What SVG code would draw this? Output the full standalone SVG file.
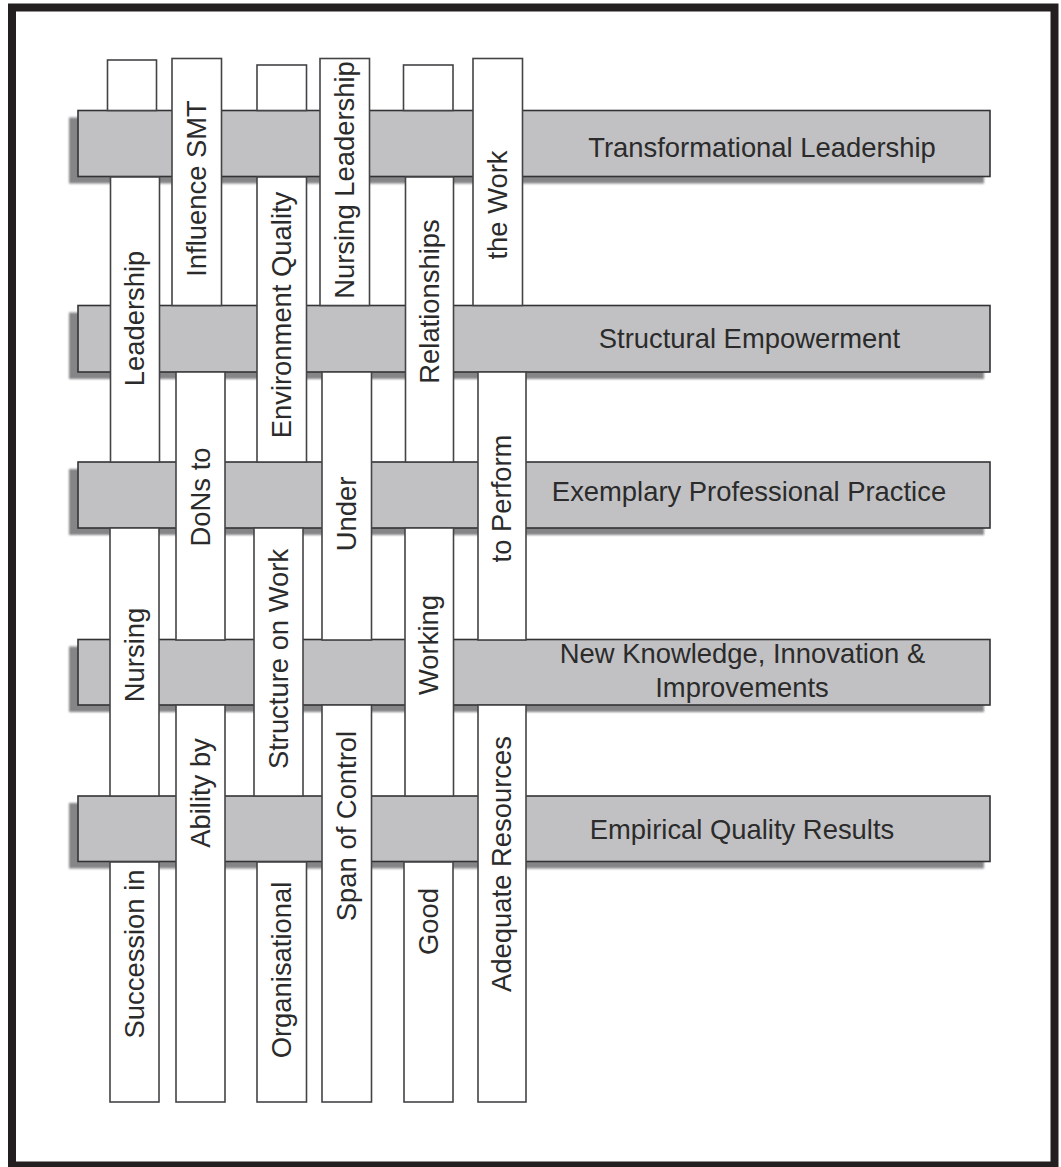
<svg xmlns="http://www.w3.org/2000/svg" width="1061" height="1167" viewBox="0 0 1061 1167">
<defs>
<style>
.frame{fill:#ffffff;stroke:#231f20;stroke-width:8}
.shadow{fill:#858588;stroke:none}
.band{fill:#c1c1c3;stroke:#333335;stroke-width:1.6}
.seg{fill:#ffffff;stroke:#444446;stroke-width:1.6}
.lbl{font-family:"Liberation Sans",Arial,Helvetica,sans-serif;font-size:27.4px;fill:#2b2b2b}
.mid{text-anchor:middle}
</style>
<filter id="soft" x="-5%" y="-20%" width="110%" height="140%"><feGaussianBlur stdDeviation="0.8"/></filter>
</defs>
<rect class="frame" x="12" y="7.5" width="1042.5" height="1158"/>

<g id="band-transformational-leadership">
<rect class="shadow" filter="url(#soft)" x="69" y="117.5" width="915" height="66"/>
<rect class="band" x="78" y="110.5" width="912" height="66"/>
<text class="lbl mid" x="762" y="157">Transformational Leadership</text>
</g>
<g id="band-structural-empowerment">
<rect class="shadow" filter="url(#soft)" x="69" y="312.5" width="915" height="66.5"/>
<rect class="band" x="78" y="305.5" width="912" height="66.5"/>
<text class="lbl mid" x="749.5" y="348">Structural Empowerment</text>
</g>
<g id="band-exemplary-professional-practice">
<rect class="shadow" filter="url(#soft)" x="69" y="469" width="915" height="66"/>
<rect class="band" x="78" y="462" width="912" height="66"/>
<text class="lbl mid" x="749" y="501">Exemplary Professional Practice</text>
</g>
<g id="band-new-knowledge">
<rect class="shadow" filter="url(#soft)" x="69" y="646.5" width="915" height="65.5"/>
<rect class="band" x="78" y="639.5" width="912" height="65.5"/>
<text class="lbl mid" x="742.5" y="663">New Knowledge, Innovation &amp;</text>
<text class="lbl mid" x="742" y="697">Improvements</text>
</g>
<g id="band-empirical-quality-results">
<rect class="shadow" filter="url(#soft)" x="69" y="803" width="915" height="65.5"/>
<rect class="band" x="78" y="796" width="912" height="65.5"/>
<text class="lbl mid" x="742" y="839">Empirical Quality Results</text>
</g>

<g id="strip-succession-in-nursing-leadership">
<rect class="seg" x="107.5" y="60" width="49" height="50.5"/>
<rect class="seg" x="110.5" y="177" width="49" height="285"/>
<text class="lbl mid" transform="translate(144,318.5) rotate(-90)">Leadership</text>
<rect class="seg" x="110" y="528" width="49" height="268"/>
<text class="lbl mid" transform="translate(143.5,655) rotate(-90)">Nursing</text>
<rect class="seg" x="110" y="862" width="49" height="240"/>
<text class="lbl mid" transform="translate(143.5,954) rotate(-90)">Succession in</text>
</g>
<g id="strip-ability-by-dons">
<rect class="seg" x="172" y="58.5" width="49.5" height="247"/>
<text class="lbl mid" transform="translate(205.5,188.5) rotate(-90)">Influence SMT</text>
<rect class="seg" x="176" y="372" width="49" height="268"/>
<text class="lbl mid" transform="translate(209.5,497) rotate(-90)">DoNs to</text>
<rect class="seg" x="176" y="705" width="49" height="397"/>
<text class="lbl mid" transform="translate(209.5,793) rotate(-90)">Ability by</text>
</g>
<g id="strip-organisational-structure">
<rect class="seg" x="257" y="65" width="49.5" height="45.5"/>
<rect class="seg" x="257" y="177" width="49.5" height="285"/>
<text class="lbl mid" transform="translate(290.5,315) rotate(-90)">Environment Quality</text>
<rect class="seg" x="254" y="528" width="49" height="268"/>
<text class="lbl mid" transform="translate(287.5,659) rotate(-90)">Structure on Work</text>
<rect class="seg" x="257" y="862" width="49.5" height="240"/>
<text class="lbl mid" transform="translate(290.5,970) rotate(-90)">Organisational</text>
</g>
<g id="strip-span-of-control">
<rect class="seg" x="320" y="58.5" width="49.5" height="247"/>
<text class="lbl mid" transform="translate(353.5,180) rotate(-90)">Nursing Leadership</text>
<rect class="seg" x="322" y="372" width="49.5" height="268"/>
<text class="lbl mid" transform="translate(355.5,514) rotate(-90)">Under</text>
<rect class="seg" x="322" y="705" width="49.5" height="397"/>
<text class="lbl mid" transform="translate(355.5,826) rotate(-90)">Span of Control</text>
</g>
<g id="strip-good-working-relationships">
<rect class="seg" x="403.5" y="65" width="49.5" height="45.5"/>
<rect class="seg" x="405.5" y="177" width="48" height="285"/>
<text class="lbl mid" transform="translate(438.5,301.5) rotate(-90)">Relationships</text>
<rect class="seg" x="405" y="528" width="48.5" height="268"/>
<text class="lbl mid" transform="translate(438,645) rotate(-90)">Working</text>
<rect class="seg" x="404" y="862" width="49" height="240"/>
<text class="lbl mid" transform="translate(437.5,921.5) rotate(-90)">Good</text>
</g>
<g id="strip-adequate-resources">
<rect class="seg" x="473" y="58.5" width="49.5" height="247"/>
<text class="lbl mid" transform="translate(506.5,205) rotate(-90)">the Work</text>
<rect class="seg" x="478" y="372" width="48" height="268"/>
<text class="lbl mid" transform="translate(511,498.5) rotate(-90)">to Perform</text>
<rect class="seg" x="478" y="705" width="48" height="397"/>
<text class="lbl mid" transform="translate(511,864) rotate(-90)">Adequate Resources</text>
</g>
</svg>
